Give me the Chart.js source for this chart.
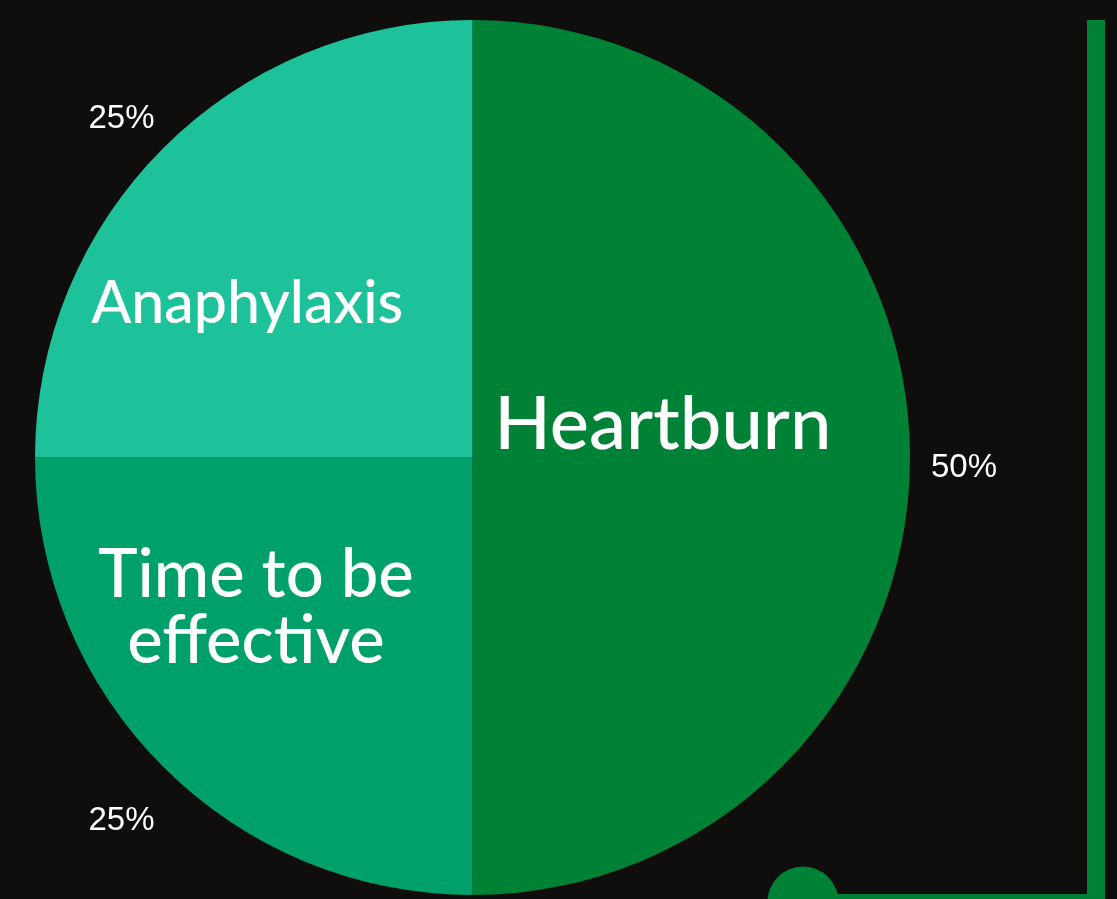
<!DOCTYPE html>
<html>
<head>
<meta charset="utf-8">
<script src="https://cdn.jsdelivr.net/npm/chart.js@4.4.0/dist/chart.umd.min.js"></script>
<style>
  html, body { margin: 0; padding: 0; background: #0f0e0d; }
  #wrap { width: 1117px; height: 899px; position: relative; }
</style>
</head>
<body>
<div id="wrap"><canvas id="c" width="1117" height="899"></canvas></div>
<script>
const categories = ["Heartburn", "Time to be effective", "Anaphylaxis"];
const categoryLines = [["Heartburn"], ["Time to be", "effective"], ["Anaphylaxis"]];
const values = [50, 25, 25];
const percentLabels = ["50%", "25%", "25%"];
const colors = ["#008236", "#00a06a", "#1ec29a"];
const innerFontSizes = [74, 67, 59];

const labelPlugin = {
  id: 'labels',
  beforeDraw(chart) {
    const ctx = chart.ctx;
    ctx.save();
    ctx.fillStyle = '#0f0e0d';
    ctx.fillRect(0, 0, chart.width, chart.height);
    // decorative frame
    ctx.fillStyle = '#008236';
    ctx.fillRect(1087, 20, 18, 879);
    ctx.fillRect(820, 894, 285, 10);
    ctx.beginPath();
    ctx.arc(803, 902, 35.5, 0, Math.PI * 2);
    ctx.fill();
    ctx.restore();
  },
  afterDatasetsDraw(chart) {
    const ctx = chart.ctx;
    const meta = chart.getDatasetMeta(0);
    ctx.save();
    meta.data.forEach((arc, i) => {
      const p = arc.getProps(['x', 'y', 'startAngle', 'endAngle', 'outerRadius'], true);
      const mid = (p.startAngle + p.endAngle) / 2;
      const R = p.outerRadius;
      // percentage outside
      const ro = R + 56;
      ctx.fillStyle = '#ffffff';
      ctx.font = '33px "Liberation Sans", Arial, sans-serif';
      ctx.textAlign = 'center';
      ctx.textBaseline = 'middle';
      const px = i === 0 ? p.x + R + 54 : p.x + Math.cos(mid) * ro - 2;
      const dy = i === 1 ? 14 : (i === 2 ? 10 : 10);
      ctx.fillText(percentLabels[i], px, p.y + Math.sin(mid) * ro + dy);
      // category inside
      let cx, cy;
      if (i === 0) { cx = p.x + R * 0.435; cy = p.y - R * 0.075; }
      else if (i === 1) { cx = p.x - R * 0.495; cy = p.y + R * 0.345; }
      else { cx = p.x - R * 0.515; cy = p.y - R * 0.35; }
      const fs = innerFontSizes[i];
      ctx.font = '500 ' + fs + 'px Lato, "Open Sans", sans-serif';
      const lines = categoryLines[i];
      const lh = fs * 0.98;
      lines.forEach((ln, k) => {
        ctx.fillText(ln, cx, cy + (k - (lines.length - 1) / 2) * lh);
      });
    });
    ctx.restore();
  }
};

new Chart(document.getElementById('c'), {
  type: 'pie',
  data: {
    labels: categories,
    datasets: [{
      data: values,
      backgroundColor: colors,
      borderWidth: 0
    }]
  },
  options: {
    responsive: false,
    animation: false,
    layout: { padding: { left: 35, right: 207, top: 20, bottom: 4 } },
    plugins: { legend: { display: false }, tooltip: { enabled: false } }
  },
  plugins: [labelPlugin]
});
</script>
</body>
</html>
